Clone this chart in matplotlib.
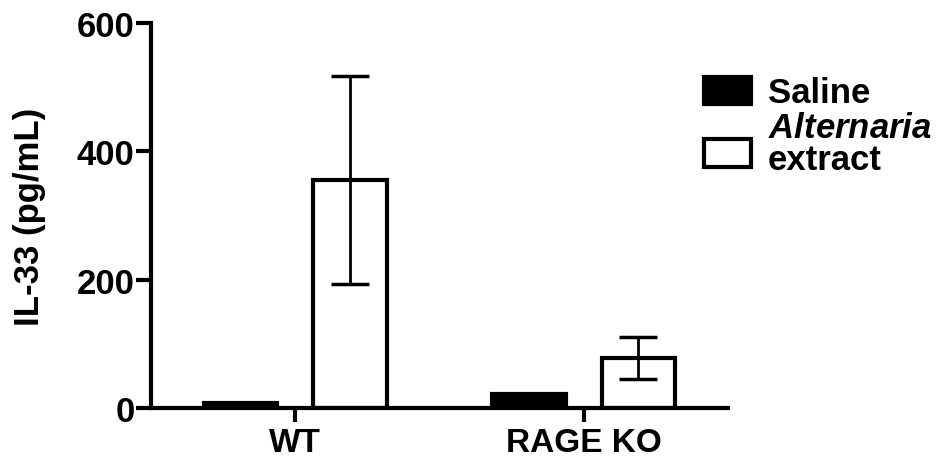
import matplotlib
matplotlib.use("Agg")
import matplotlib.pyplot as plt
import numpy as np

plt.rcParams['font.family'] = ['Liberation Sans', 'DejaVu Sans']
plt.rcParams['font.weight'] = 'bold'
plt.rcParams['mathtext.fontset'] = 'custom'
plt.rcParams['mathtext.it'] = 'Liberation Sans:italic:bold'
plt.rcParams['mathtext.rm'] = 'Liberation Sans:bold'

# data
groups = ['WT', 'RAGE KO']
saline = [8, 22]
alternaria = [355, 78]
alternaria_err = [162, 33]
yticks = [0, 200, 400, 600]

fig = plt.figure(figsize=(9.45, 4.6), dpi=100)
ax = fig.add_axes([0.160, 0.111, 0.610, 0.837])

x = np.arange(len(groups))
offset = 0.19
width = 0.255

ax.bar(x - offset, saline, width, color='black', edgecolor='black', linewidth=3,
       label='Saline', zorder=2)
ax.bar(x + offset, alternaria, width, color='white', edgecolor='black', linewidth=3,
       label='$\\mathit{Alternaria}$\nextract', zorder=2)
ax.errorbar(x + offset, alternaria, yerr=alternaria_err, fmt='none', ecolor='black',
            elinewidth=2, capsize=14, capthick=2.5, zorder=3)

ax.set_xlim(-0.5, 1.5)
ax.set_ylim(0, 600)
ax.set_yticks(yticks)
ax.set_xticks(x)
ax.set_xticklabels(groups, fontsize=24, fontweight='bold')
ax.tick_params(axis='y', labelsize=25, width=3, length=11, pad=1)
ax.tick_params(axis='x', width=3, length=10, pad=4)
for lab in ax.get_yticklabels():
    lab.set_fontweight('bold')
ax.set_ylabel('IL-33 (pg/mL)', fontsize=25, fontweight='bold', labelpad=22)

ax.spines['top'].set_visible(False)
ax.spines['right'].set_visible(False)
ax.spines['left'].set_linewidth(3)
ax.spines['bottom'].set_linewidth(3)
ax.spines['left'].set_capstyle('projecting')

leg = fig.legend(loc='upper left', bbox_to_anchor=(0.730, 0.862), frameon=False,
                 fontsize=25, handlelength=1.35, handleheight=0.85,
                 handletextpad=0.5, labelspacing=0.05, borderaxespad=0)
for p in leg.get_patches():
    p.set_linewidth(3)
for t in leg.get_texts():
    t.set_linespacing(0.95)
# open box sits a little lower than the centre of its two-line label
h = leg.legend_handles[1]
h.set_y(h.get_y() - 6)

fig.savefig('out.png', dpi=100)
